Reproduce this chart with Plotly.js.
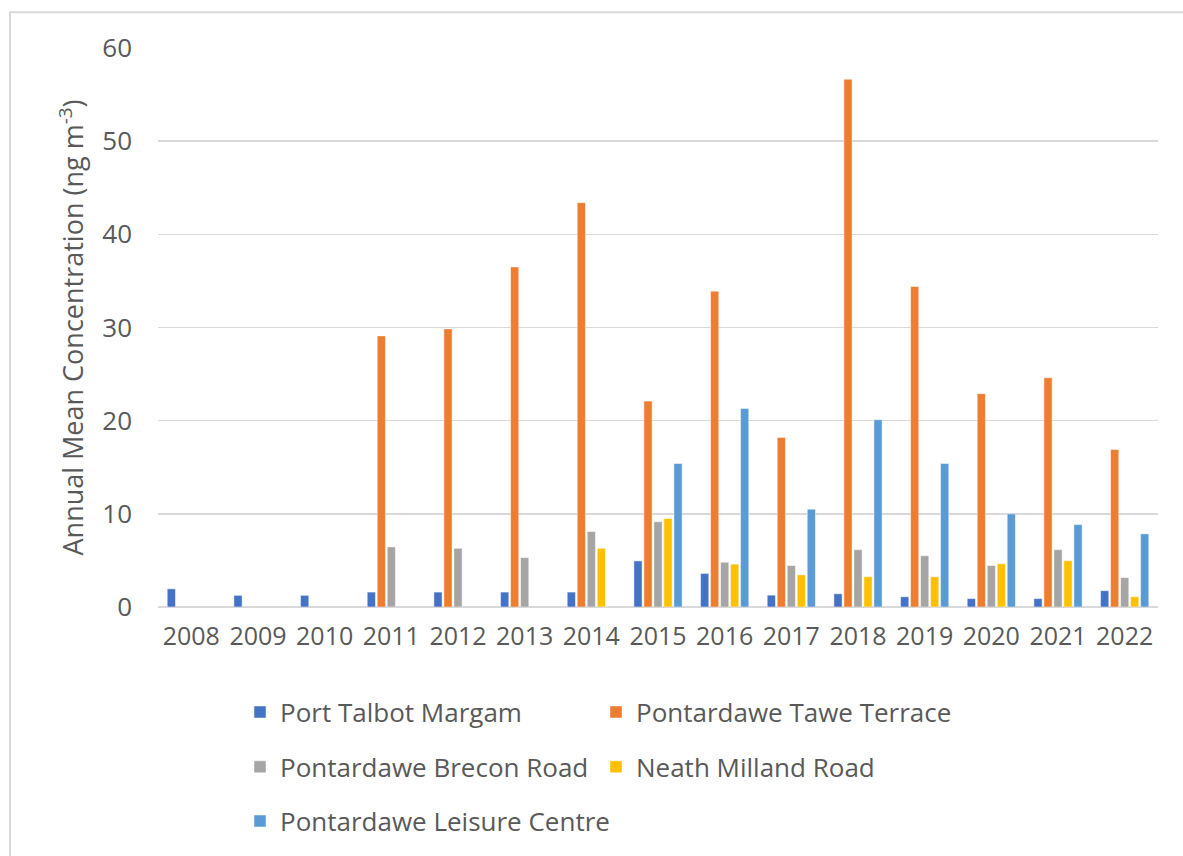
<!DOCTYPE html>
<html>
<head>
<meta charset="utf-8">
<script src="https://cdn.plot.ly/plotly-3.0.1.min.js"></script>
<style>html,body{margin:0;padding:0;background:#fff;}#chart{width:1183px;height:856px;}</style>
</head>
<body>
<div id="chart"></div>
<script>
const years = ['2008','2009','2010','2011','2012','2013','2014','2015','2016','2017','2018','2019','2020','2021','2022'];
const portTalbotMargam = [1.95, 1.25, 1.25, 1.6, 1.6, 1.6, 1.6, 4.95, 3.6, 1.27, 1.42, 1.1, 0.9, 0.9, 1.75];
const tawaTerrace = [null, null, null, 29.1, 29.85, 36.5, 43.4, 22.1, 33.9, 18.2, 56.65, 34.4, 22.9, 24.6, 16.9];
const breconRoad = [null, null, null, 6.45, 6.3, 5.3, 8.1, 9.15, 4.8, 4.45, 6.15, 5.5, 4.45, 6.15, 3.15];
const neathMilland = [null, null, null, null, null, null, 6.3, 9.5, 4.6, 3.45, 3.25, 3.25, 4.65, 4.97, 1.1];
const leisureCentre = [null, null, null, null, null, null, null, 15.4, 21.3, 10.5, 20.1, 15.4, 10.0, 8.85, 7.85];

const names = ['Port Talbot Margam','Pontardawe Tawe Terrace','Pontardawe Brecon Road','Neath Milland Road','Pontardawe Leisure Centre'];
const colors = ['#4472C4','#ED7D31','#A5A5A5','#FFC000','#5B9BD5'];
const series = [portTalbotMargam, tawaTerrace, breconRoad, neathMilland, leisureCentre];
const legendIds = ['legend','legend','legend2','legend2','legend3'];

const font = '"Open Sans", sans-serif';
const txt = '#595959';

const traces = series.map((vals, i) => ({
  type: 'bar',
  name: names[i],
  x: years,
  y: vals,
  marker: {color: colors[i], line: {color: 'rgba(255,255,255,0.6)', width: 0.8}},
  legend: legendIds[i],
  hoverinfo: 'x+y+name'
}));

function leg(y, ew) {
  return {
    orientation: 'h', x: 0.082, xanchor: 'left', y: y, yanchor: 'middle',
    entrywidth: ew, entrywidthmode: 'pixels',
    font: {family: font, size: 26, color: txt}, bgcolor: 'rgba(0,0,0,0)',
    traceorder: 'normal', itemclick: false
  };
}

const layout = {
  width: 1183, height: 856,
  margin: {l: 158, r: 25, t: 48, b: 249},
  paper_bgcolor: '#fff', plot_bgcolor: '#fff',
  barmode: 'group', bargap: 0.25, bargroupgap: 0.18,
  font: {family: font, color: txt},
  xaxis: {
    type: 'category', showgrid: false, showline: false, zeroline: false, tickangle: 0,
    ticks: '', tickfont: {family: font, size: 25, color: txt}, ticklabelstandoff: 12
  },
  yaxis: {
    range: [0, 60], dtick: 10, tick0: 0, showgrid: true, gridcolor: '#D9D9D9', gridwidth: 1.5,
    zeroline: true, zerolinecolor: '#D9D9D9', zerolinewidth: 1.5, showline: false, ticks: '',
    tickfont: {family: font, size: 26, color: txt}, ticklabelstandoff: 25,
    title: {text: 'Annual Mean Concentration (ng m<sup>-3</sup>)', font: {family: font, size: 27, color: txt}, standoff: 10}
  },
  legend: leg(-0.188, 311),
  legend2: leg(-0.286, 311),
  legend3: leg(-0.383, 420),
  shapes: [{
    type: 'rect', xref: 'paper', yref: 'paper',
    x0: -0.148, x1: 1.1, y0: -0.6, y1: 1.064,
    line: {color: '#D9D9D9', width: 2}, fillcolor: 'rgba(0,0,0,0)', layer: 'below'
  }]
};

Plotly.newPlot('chart', traces, layout, {staticPlot: true});
</script>
</body>
</html>
